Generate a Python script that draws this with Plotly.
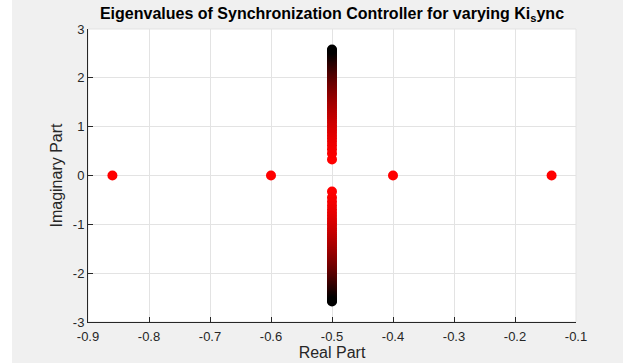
import plotly.graph_objects as go

# Real-axis eigenvalues (constant, red)
real_x = [-0.86, -0.60, -0.40, -0.14]
real_y = [0, 0, 0, 0]

# Complex-pair branch at Re = -0.5, imaginary parts as Ki_sync increases
branch_re = -0.5
branch_im = [0.33, 0.45, 0.54, 0.62, 0.69, 0.76, 0.82, 0.88, 0.93, 0.98,
             1.03, 1.08, 1.12, 1.17, 1.21, 1.25, 1.29, 1.33, 1.37, 1.40,
             1.44, 1.47, 1.51, 1.54, 1.57, 1.61, 1.64, 1.67, 1.70, 1.73,
             1.76, 1.79, 1.82, 1.84, 1.87, 1.90, 1.93, 1.95, 1.98, 2.01,
             2.03, 2.06, 2.08, 2.11, 2.13, 2.16, 2.18, 2.20, 2.23, 2.25,
             2.27, 2.30, 2.32, 2.34, 2.36, 2.39, 2.41, 2.43, 2.45, 2.47,
             2.49, 2.52, 2.54, 2.56, 2.58]

x_ticks = [-0.9, -0.8, -0.7, -0.6, -0.5, -0.4, -0.3, -0.2, -0.1]
y_ticks = [-3, -2, -1, 0, 1, 2, 3]

n = len(branch_im)
colors = []
for i in range(n):
    f = 1 - i / (n - 1)
    colors.append(f"rgb({int(round(255 * f))},0,0)")

fig = go.Figure()
fig.add_trace(go.Scatter(x=real_x, y=real_y, mode="markers",
                         marker=dict(color="rgb(255,0,0)", size=10),
                         showlegend=False))
fig.add_trace(go.Scatter(x=[branch_re] * n, y=branch_im, mode="markers",
                         marker=dict(color=colors, size=10),
                         showlegend=False))
fig.add_trace(go.Scatter(x=[branch_re] * n, y=[-v for v in branch_im], mode="markers",
                         marker=dict(color=colors, size=10),
                         showlegend=False))

font_family = "Liberation Sans, Arial, Helvetica, sans-serif"
axis_common = dict(
    showgrid=True, gridcolor="#e3e3e3", gridwidth=1,
    zeroline=False, showline=True, linecolor="#262626", linewidth=1,
    ticks="inside", ticklen=5, tickcolor="#262626",
    tickfont=dict(family=font_family, size=13, color="#262626"),
    mirror=False, automargin=False,
)

L, T, W, H = 88, 29, 488, 293
fig.update_layout(
    width=623, height=363,
    margin=dict(l=L, r=623 - L - W, t=T, b=363 - T - H),
    paper_bgcolor="#f0f0f0", plot_bgcolor="white",
    hovermode=False,
    title=dict(text="<b>Eigenvalues of Synchronization Controller for varying Ki<sub>s</sub>ync</b>",
               x=(L + W / 2) / 623, xanchor="center", y=1 - 13 / 363, yanchor="middle",
               font=dict(family=font_family, size=16, color="black")),
    xaxis=dict(axis_common, range=[-0.9, -0.1], tickvals=x_ticks,
               ticktext=[f"{v:.1f}" for v in x_ticks], ticklabelstandoff=2,
               title=dict(text="Real Part", standoff=4,
                          font=dict(family=font_family, size=16, color="#262626"))),
    yaxis=dict(axis_common, range=[-3, 3], tickvals=y_ticks,
               ticktext=[str(v) for v in y_ticks],
               title=dict(text="Imaginary Part", standoff=6,
                          font=dict(family=font_family, size=16, color="#262626"))),
    shapes=[
        dict(type="rect", xref="paper", yref="paper", x0=0, x1=1, y0=0, y1=1,
             line=dict(color="#e3e3e3", width=1), layer="below"),
        dict(type="rect", xref="paper", yref="paper",
             x0=-L / W, x1=(12 - L) / W, y0=-(363 - T - H) / H, y1=(T + H + 1) / H,
             fillcolor="white", line=dict(width=0), layer="below"),
    ],
)

fig.write_html("out.html", config={"displayModeBar": False},
               post_script="document.body.style.margin='0';")
